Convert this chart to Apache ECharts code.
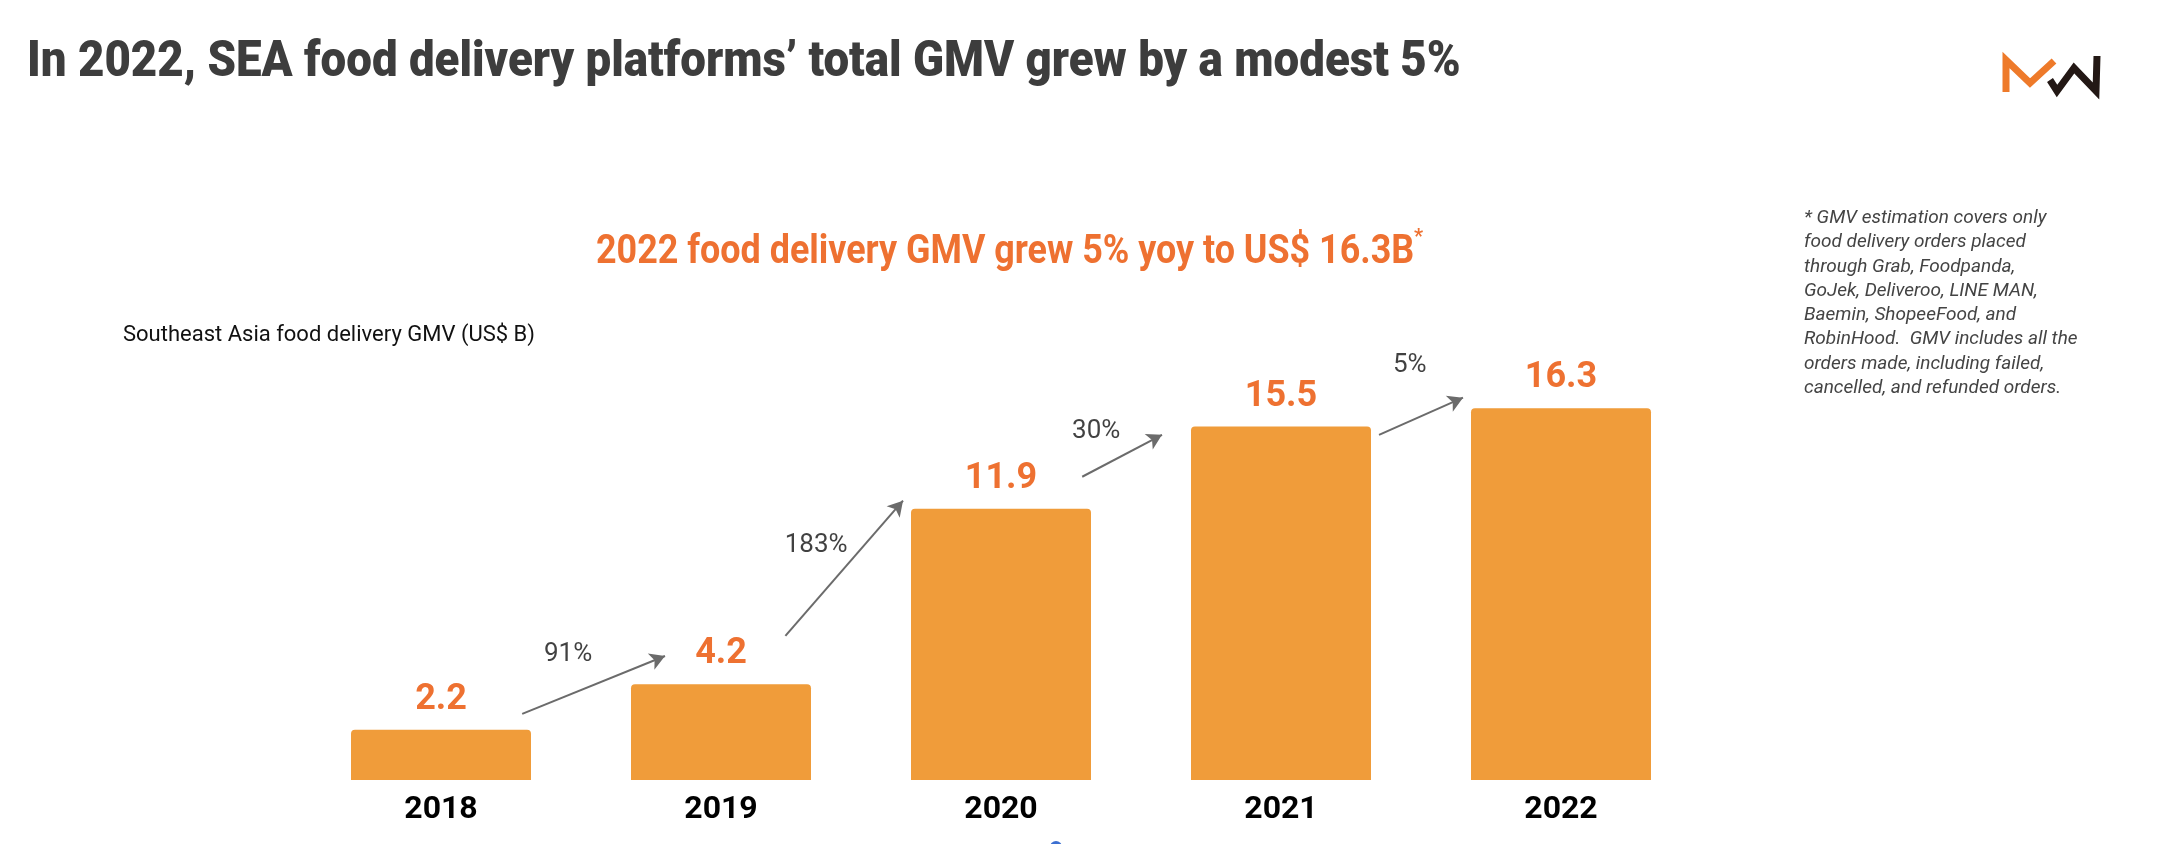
<!DOCTYPE html>
<html><head><meta charset="utf-8">
<script src="https://cdn.jsdelivr.net/npm/echarts@6/dist/echarts.min.js"></script>
<style>html,body{margin:0;padding:0;background:#fff}#c{width:2157px;height:844px}</style>
</head><body><div id="c"></div>
<script>
// ---- data ----
const years = ['2018', '2019', '2020', '2021', '2022'];
const gmv = [2.2, 4.2, 11.9, 15.5, 16.3];
const growthLabels = ['91%', '183%', '30%', '5%'];
const titleText = 'In 2022, SEA food delivery platforms\u2019 total GMV grew by a modest 5%';
const subtitleText = '2022 food delivery GMV grew 5% yoy to US$ 16.3B';
const axisTitle = 'Southeast Asia food delivery GMV (US$ B)';
const footnoteLines = [
  '* GMV estimation covers only',
  'food delivery orders placed',
  'through Grab, Foodpanda,',
  'GoJek, Deliveroo, LINE MAN,',
  'Baemin, ShopeeFood, and',
  'RobinHood.  GMV includes all the',
  'orders made, including failed,',
  'cancelled, and refunded orders.'
];

// ---- annotation geometry (category index units on x, value units on y) ----
const arrowGeom = [
  [[0.29, 2.9], [0.80, 5.44]],
  [[1.23, 6.32], [1.65, 12.25]],
  [[2.29, 13.3], [2.575, 15.14]],
  [[3.35, 15.14], [3.65, 16.77]]
];
const growthLabelPos = [[0.454, 5.49], [1.34, 10.27], [2.34, 15.28], [3.46, 18.2]];

const ORANGE_TXT = '#EE7131';
const BAR = '#F09C3A';

const chart = echarts.init(document.getElementById('c'), null, {renderer: 'canvas'});
chart.setOption({
  backgroundColor: '#ffffff',
  animation: false,
  title: [
    {text: axisTitle, left: 118, top: 319,
     textStyle: {fontFamily: 'Roboto, sans-serif', fontWeight: 'normal', fontSize: 22, color: '#111'}},
    {text: footnoteLines.join('\n'), left: 1799, top: 201,
     textStyle: {fontFamily: 'Roboto, sans-serif', fontStyle: 'italic', fontWeight: 'normal', fontSize: 19, lineHeight: 24.3, color: '#444'}}
  ],
  grid: {left: 301, right: 456, top: 324, bottom: 64, containLabel: false},
  xAxis: [
    {type: 'category', data: years,
     axisLine: {show: false}, axisTick: {show: false}, splitLine: {show: false},
     axisLabel: {margin: 14, fontFamily: 'Roboto, sans-serif', fontWeight: 'bold', fontSize: 32, color: '#000'}},
    {type: 'value', min: -0.5, max: 4.5, show: false}
  ],
  yAxis: {type: 'value', min: 0, max: 20, show: false},
  series: [
    {type: 'bar', data: gmv, barWidth: 180, xAxisIndex: 0,
     itemStyle: {color: BAR, borderRadius: [4, 4, 0, 0]},
     label: {show: true, position: 'top', distance: 12, fontFamily: 'Roboto, sans-serif', fontWeight: 'bold', fontSize: 36, color: ORANGE_TXT}},
    {type: 'line', xAxisIndex: 1, data: [], silent: true,
     markLine: {silent: true, symbol: ['none', 'arrow'], symbolSize: [13, 15],
       lineStyle: {color: '#6b6b6b', width: 2, type: 'solid'},
       label: {show: false},
       data: arrowGeom.map(g => [{coord: g[0]}, {coord: g[1]}])}},
    {type: 'scatter', xAxisIndex: 1, symbolSize: 0, silent: true,
     data: growthLabelPos.map((p, i) => ({value: p, name: growthLabels[i]})),
     label: {show: true, position: 'inside', formatter: p => p.name,
       fontFamily: 'Roboto, sans-serif', fontSize: 26, color: '#111'}}
  ],
  graphic: [
    {type: 'text', x: 27, y: 63, scaleX: 0.913,
     style: {text: titleText, fontFamily: 'Roboto, sans-serif', fontWeight: 900, fontSize: 50, fill: '#3d3d3d', textVerticalAlign: 'middle'}},
    {type: 'text', x: 596, y: 253, scaleX: 0.897,
     style: {text: subtitleText, fontFamily: 'Roboto, sans-serif', fontWeight: 'bold', fontSize: 40, fill: ORANGE_TXT, textVerticalAlign: 'middle'}},
    {type: 'text', x: 1414, y: 238,
     style: {text: '*', fontFamily: 'Roboto, sans-serif', fontWeight: 'bold', fontSize: 20, fill: ORANGE_TXT, textVerticalAlign: 'middle'}},
    {type: 'polyline', shape: {points: [[2006, 92], [2006, 60], [2030, 83], [2054, 61]]},
     style: {stroke: '#EE7A2A', lineWidth: 7, fill: null, lineJoin: 'miter'}},
    {type: 'polyline', shape: {points: [[2050, 80], [2057, 91], [2074, 68], [2096, 91], [2097, 56]]},
     style: {stroke: '#231815', lineWidth: 7, fill: null, lineJoin: 'miter'}},
    {type: 'circle', shape: {cx: 1056, cy: 847, r: 6}, style: {fill: '#3b6fd1'}}
  ]
});
</script></body></html>
